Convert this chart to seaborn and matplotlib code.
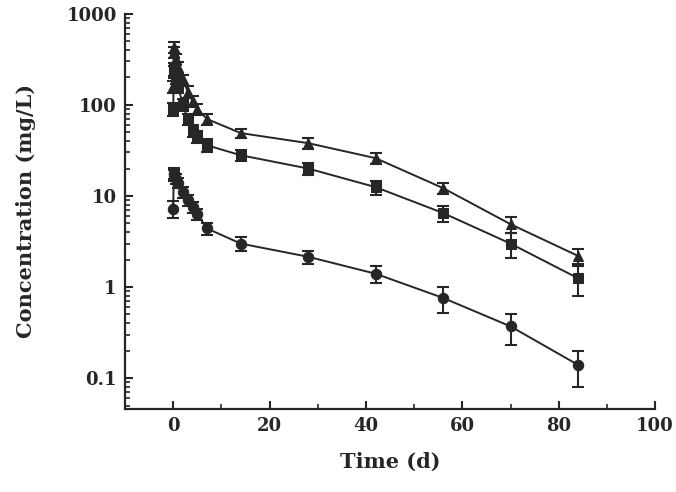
import numpy as np
import pandas as pd
import matplotlib
matplotlib.use("Agg")
from matplotlib import pyplot as plt
from matplotlib.ticker import MultipleLocator, LogLocator, NullFormatter, FixedLocator, FixedFormatter
import seaborn as sns

# sampling times (days)
time = [0, 0.1, 0.25, 0.5, 1, 2, 3, 4, 5, 7, 14, 28, 42, 56, 70, 84]

# mean concentrations (mg/L)
tri_mean = [160, 430, 380, 320, 260, 190, 140, 110, 90, 70, 49, 38, 26, 12.2, 4.9, 2.2]
sq_mean = [90, 250, 230, 200, 160, 100, 70, 52, 45, 36, 28, 20, 12.5, 6.5, 3.0, 1.25]
circ_mean = [7.2, 18, 17, 15.5, 14, 11, 9, 7.5, 6.3, 4.4, 3.0, 2.15, 1.4, 0.76, 0.37, 0.14]

# standard deviations
tri_sd = [25, 60, 55, 45, 35, 25, 20, 15, 12, 10, 6, 5, 3.5, 1.8, 1.0, 0.4]
sq_sd = [15, 40, 35, 30, 25, 15, 10, 8, 7, 6, 4, 3, 2.2, 1.3, 0.9, 0.45]
circ_sd = [1.5, 2.5, 2.3, 2.0, 1.8, 1.5, 1.2, 1.0, 0.9, 0.7, 0.5, 0.35, 0.3, 0.24, 0.14, 0.06]

groups = {
    "tri": (tri_mean, tri_sd, "^"),
    "sq": (sq_mean, sq_sd, "s"),
    "circ": (circ_mean, circ_sd, "o"),
}

sns.set_style("ticks")
plt.rcParams["font.family"] = ["DejaVu Serif"]

fig = plt.figure(figsize=(6.76, 4.92), dpi=100)
ax = fig.add_axes([0.185, 0.169, 0.784, 0.803])

col = "#262626"
for name, (m, sd, mk) in groups.items():
    df = pd.DataFrame({"t": time, "c": m})
    ax.errorbar(time, m, yerr=sd, fmt="none", ecolor=col, elinewidth=1.5,
                capsize=4, capthick=1.5, zorder=2)
    sns.lineplot(data=df, x="t", y="c", ax=ax, color=col, linewidth=1.4,
                 marker=mk, markersize=7.5 if mk != "s" else 6.5, markeredgecolor=col,
                 markerfacecolor=col, zorder=3)

ax.set_yscale("log")
ax.set_xlim(-10, 100)
ax.set_ylim(0.046, 1000)

ax.xaxis.set_major_locator(MultipleLocator(20))
ax.xaxis.set_minor_locator(MultipleLocator(10))
ax.yaxis.set_major_locator(FixedLocator([0.1, 1, 10, 100, 1000]))
ax.yaxis.set_major_formatter(FixedFormatter(["0.1", "1", "10", "100", "1000"]))
ax.yaxis.set_minor_locator(LogLocator(base=10, subs=np.arange(2, 10)))
ax.yaxis.set_minor_formatter(NullFormatter())

ax.tick_params(which="major", direction="in", length=6, width=1.5, labelsize=13,
               colors=col, pad=6)
ax.tick_params(which="minor", direction="in", length=3.5, width=1.2, colors=col)
for lab in ax.get_xticklabels() + ax.get_yticklabels():
    lab.set_fontweight("bold")

sns.despine(ax=ax)
for s in ["left", "bottom"]:
    ax.spines[s].set_linewidth(1.6)
    ax.spines[s].set_color(col)

ax.set_xlabel("Time (d)", fontsize=15, fontweight="bold", color=col, labelpad=12)
ax.set_ylabel("Concentration (mg/L)", fontsize=15, fontweight="bold", color=col, labelpad=22)

fig.savefig("out.png", dpi=100)
